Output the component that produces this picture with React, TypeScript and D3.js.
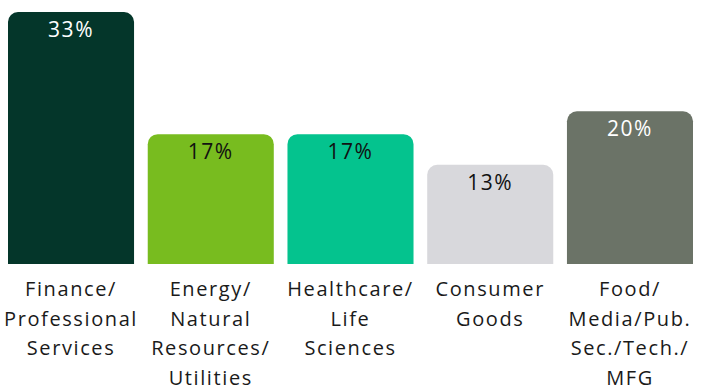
import React from "react";
import * as d3 from "d3";

const categories: string[][] = [
  ["Finance/", "Professional", "Services"],
  ["Energy/", "Natural", "Resources/", "Utilities"],
  ["Healthcare/", "Life", "Sciences"],
  ["Consumer", "Goods"],
  ["Food/", "Media/Pub.", "Sec./Tech./", "MFG"],
];
const values: number[] = [33, 17, 17, 13, 20];
const valueLabels: string[] = ["33%", "17%", "17%", "13%", "20%"];
const colors: string[] = ["#04362a", "#78bc1f", "#04c38e", "#d8d8dc", "#6b7367"];
const labelColors: string[] = ["#ffffff", "#111111", "#111111", "#111111", "#ffffff"];

const W = 702;
const H = 388;
const FONT = "'Open Sans', 'DejaVu Sans', sans-serif";

function topRoundedRect(x: number, y: number, w: number, h: number, r: number) {
  const p = d3.path();
  p.moveTo(x, y + h);
  p.lineTo(x, y + r);
  p.arcTo(x, y, x + r, y, r);
  p.lineTo(x + w - r, y);
  p.arcTo(x + w, y, x + w, y + r, r);
  p.lineTo(x + w, y + h);
  p.closePath();
  return p.toString();
}

export default function App() {
  const idx = values.map((_, i) => String(i));
  const x = d3.scaleBand<string>().domain(idx).range([8, 693]).paddingInner(0.098).paddingOuter(0);
  const y = d3.scaleLinear().domain([0, 33]).range([264, 12]);
  const bw = x.bandwidth();

  return (
    <div style={{ position: "absolute", left: 0, top: 0 }}>
      <svg width={W} height={H} style={{ display: "block", background: "#ffffff" }}>
        {values.map((v, i) => {
          const bx = x(String(i)) as number;
          const by = y(v);
          const cx = bx + bw / 2;
          return (
            <g key={i}>
              <path d={topRoundedRect(bx, by, bw, y(0) - by, 10)} fill={colors[i]} />
              <text
                x={cx}
                y={by + 25}
                textAnchor="middle"
                fontFamily={FONT}
                fontSize={21}
                letterSpacing={1.6}
                fill={labelColors[i]}
              >
                {valueLabels[i]}
              </text>
              {categories[i].map((line, j) => (
                <text
                  key={j}
                  x={cx}
                  y={296 + j * 29.6}
                  textAnchor="middle"
                  fontFamily={FONT}
                  fontSize={20}
                  letterSpacing={1.6}
                  fill="#1a1a1a"
                >
                  {line}
                </text>
              ))}
            </g>
          );
        })}
      </svg>
    </div>
  );
}
